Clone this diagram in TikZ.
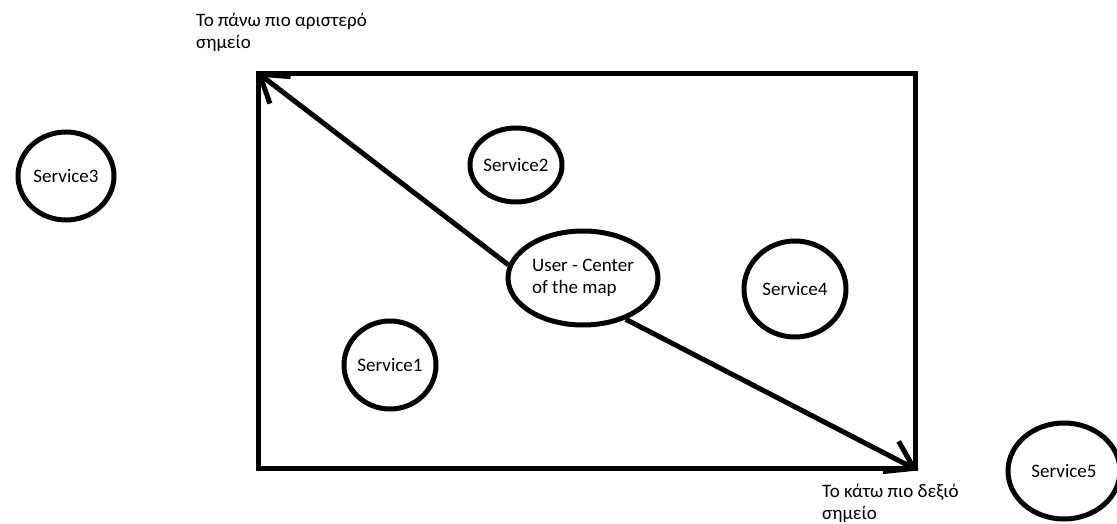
\documentclass[tikz,border=0pt]{standalone}
\usepackage{fontspec}
\setmainfont{Carlito}
\usetikzlibrary{arrows.meta,shapes.geometric}

\begin{document}
\begin{tikzpicture}[x=1pt, y=-1pt, font=\fontsize{19}{22}\selectfont,
	service/.style={draw, ellipse, line width=5pt, inner sep=0pt},
	corner/.style={align=left, inner sep=0pt, anchor=north west},
	pointer/.style={line width=5pt, -{Straight Barb[length=26pt, width=34pt, line width=5pt]}}]
	\useasboundingbox (0,0) rectangle (1117,524);

	% the map
	\node [draw, line width=5pt, minimum width=657pt, minimum height=394pt, inner sep=0pt] (map) at (587,271) {};

	% Services and user
	\node [service, minimum width=96pt, minimum height=88pt]  (s3)   at (66,176)   {Service3};
	\node [service, minimum width=86pt, minimum height=74pt]  (s2)   at (516,165)  {Service2};
	\node [service, minimum width=150pt, minimum height=94pt, align=left] (user) at (583,278) {User - Center\\of the map};
	\node [service, minimum width=102pt, minimum height=96pt] (s4)   at (795,289)  {Service4};
	\node [service, minimum width=92pt, minimum height=88pt]  (s1)   at (390,365)  {Service1};
	\node [service, minimum width=112pt, minimum height=96pt] (s5)   at (1064,471) {Service5};

	% corner labels
	\node [corner] (tl) at (196,13)  {Το πάνω πιο αριστερό\\σημείο};
	\node [corner] (br) at (822,484) {Το κάτω πιο δεξιό\\σημείο};

	% arrows
	\draw [pointer] (user.170) -- (map.north west);
	\draw [pointer] (user.-44) -- (map.south east);
\end{tikzpicture}
\end{document}
